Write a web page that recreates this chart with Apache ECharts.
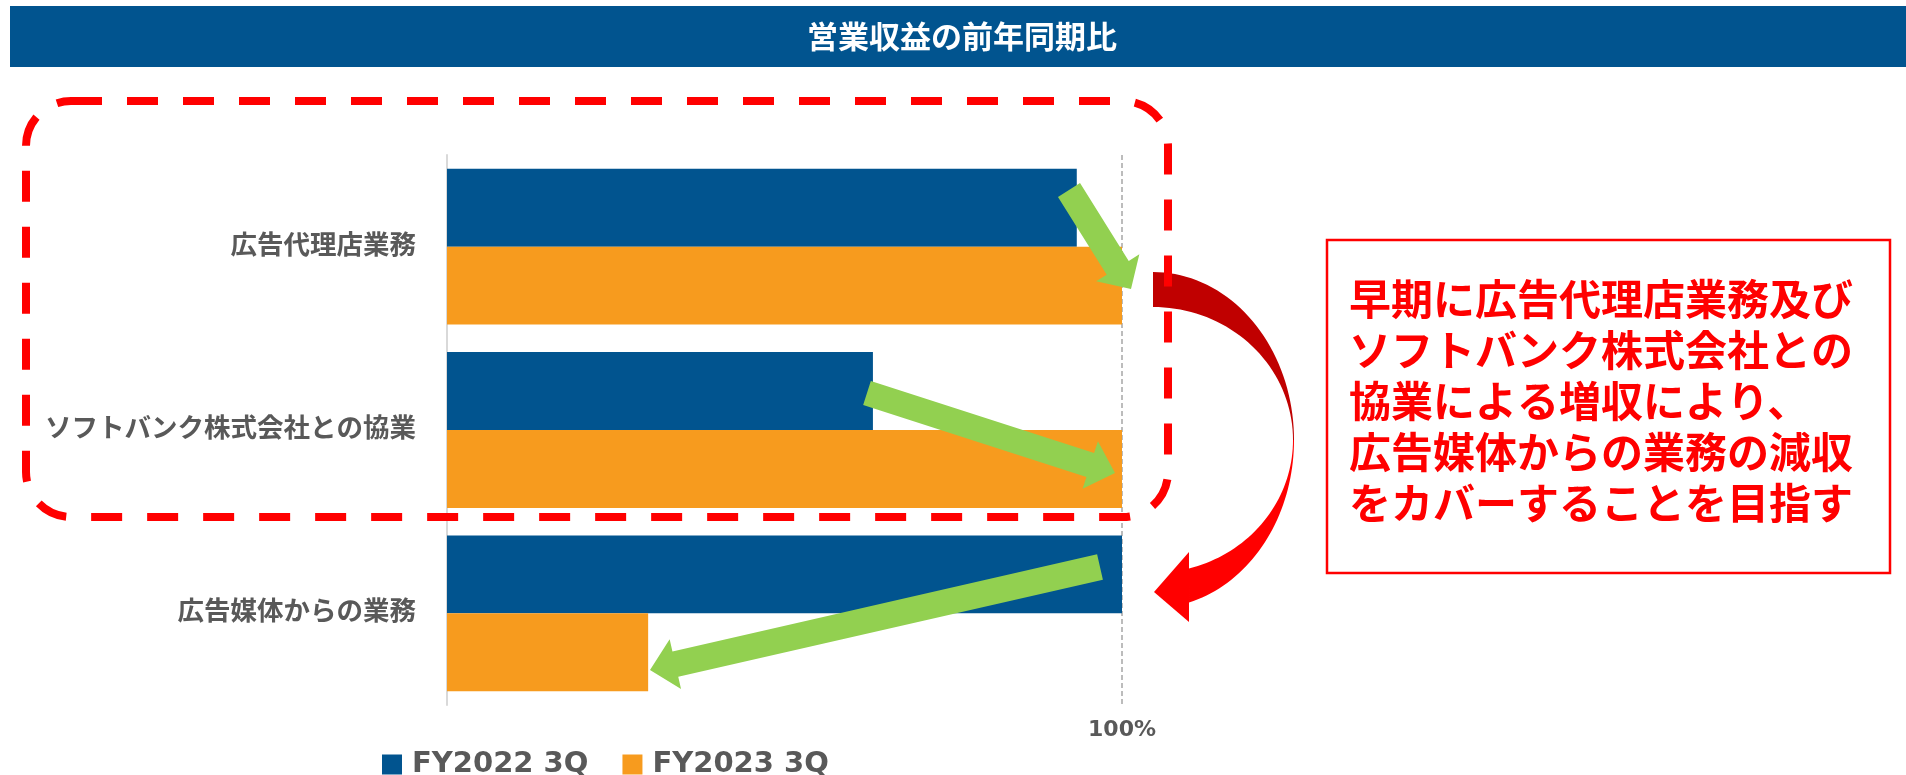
<!DOCTYPE html>
<html>
<head>
<meta charset="utf-8">
<script src="https://cdn.jsdelivr.net/npm/echarts@6/dist/echarts.min.js"></script>
<style>
html,body{margin:0;padding:0;background:#fff;}
#c{width:1906px;height:775px;}
</style>
</head>
<body>
<div id="c"></div>
<script>
// ---- data ----
const categories = ['広告代理店業務', 'ソフトバンク株式会社との協業', '広告媒体からの業務'];
const seriesNames = ['FY2022 3Q', 'FY2023 3Q'];
const fy2022Values = [93.3, 63.1, 100];
const fy2023Values = [100, 100, 29.8];
const xTickValues = [0, 100];
const titleText = '営業収益の前年同期比';
const noteLines = [
  '早期に広告代理店業務及び',
  'ソフトバンク株式会社との',
  '協業による増収により、',
  '広告媒体からの業務の減収',
  'をカバーすることを目指す'
];

const FONT = "'DejaVu Sans', 'Noto Sans CJK JP', sans-serif";
const BLUE = '#01548F';
const ORANGE = '#F79B1E';
const GREEN = '#92D050';

function arrowPts(tx, ty, hx, hy, sw, hw, hl) {
  const dx = hx - tx, dy = hy - ty, L = Math.hypot(dx, dy);
  const ux = dx / L, uy = dy / L, px = -uy, py = ux;
  const bx = hx - ux * hl, by = hy - uy * hl;
  return [
    [tx + px * sw / 2, ty + py * sw / 2],
    [bx + px * sw / 2, by + py * sw / 2],
    [bx + px * hw / 2, by + py * hw / 2],
    [hx, hy],
    [bx - px * hw / 2, by - py * hw / 2],
    [bx - px * sw / 2, by - py * sw / 2],
    [tx - px * sw / 2, ty - py * sw / 2]
  ];
}

function ellPts(cx, cy, rx, ry, a0, a1, n) {
  const pts = [];
  for (let i = 0; i <= n; i++) {
    const t = (a0 + (a1 - a0) * i / n) * Math.PI / 180;
    pts.push([cx + rx * Math.cos(t), cy + ry * Math.sin(t)]);
  }
  return pts;
}

const cx = 1153, cy = 440;
const darkPart = ellPts(cx, cy, 141, 168, -90, 0, 40).concat(ellPts(cx, cy, 140, 133, 0, -90, 40));
const brightPart = ellPts(cx, cy, 141, 168, 0, 75.2, 40).concat(ellPts(cx, cy, 140, 133, 75.1, 0, 40));

const chart = echarts.init(document.getElementById('c'), null, {renderer: 'canvas'});

chart.setOption({
  animation: false,
  backgroundColor: '#ffffff',
  grid: {left: 447, top: 155, width: 675, height: 550, containLabel: false},
  legend: {
    data: seriesNames,
    left: 377,
    top: 745,
    icon: 'rect',
    itemWidth: 20,
    itemHeight: 20,
    itemGap: 34,
    textStyle: {fontFamily: FONT, fontSize: 29, fontWeight: 'bold', color: '#595959', padding: [0, 0, 0, 5]}
  },
  xAxis: {
    type: 'value',
    min: xTickValues[0],
    max: xTickValues[xTickValues.length - 1],
    interval: 100,
    axisLine: {show: false},
    axisTick: {show: false},
    axisLabel: {
      margin: 14,
      fontFamily: FONT, fontSize: 22, fontWeight: 'bold', color: '#595959',
      formatter: v => (v === 0 ? '' : v + '%')
    },
    splitLine: {show: true, lineStyle: {color: ['rgba(0,0,0,0)', '#A6A6A6'], type: [5, 3], width: 1.5}}
  },
  yAxis: {
    type: 'category',
    data: categories,
    inverse: true,
    axisLine: {show: true, lineStyle: {color: '#D9D9D9', width: 2}},
    axisTick: {show: false},
    axisLabel: {margin: 31, fontFamily: FONT, fontSize: 26.5, fontWeight: 'bold', color: '#595959'}
  },
  series: [
    {name: seriesNames[0], type: 'bar', data: fy2022Values, barGap: '0%', barCategoryGap: '15%', itemStyle: {color: BLUE}},
    {name: seriesNames[1], type: 'bar', data: fy2023Values, barGap: '0%', barCategoryGap: '15%', itemStyle: {color: ORANGE}}
  ],
  graphic: [
    {type: 'rect', z: 100, shape: {x: 10, y: 6, width: 1896, height: 61}, style: {fill: BLUE}},
    {type: 'text', z: 101, x: 962, y: 36, style: {text: titleText, fill: '#ffffff', font: "bold 31px 'Noto Sans CJK JP'", align: 'center', verticalAlign: 'middle'}},
    {type: 'polygon', z: 100, shape: {points: darkPart}, style: {fill: '#C00000'}},
    {type: 'polygon', z: 100, shape: {points: brightPart}, style: {fill: '#FF0000'}},
    {type: 'polygon', z: 100, shape: {points: [[1189, 552], [1154, 592], [1189, 622]]}, style: {fill: '#FF0000'}},
    {type: 'rect', z: 101, shape: {x: 26, y: 101, width: 1142, height: 416, r: 45}, style: {fill: null, stroke: '#FF0000', lineWidth: 8, lineDash: [31, 25]}},
    {type: 'polygon', z: 102, shape: {points: arrowPts(1069, 190, 1131, 289, 26, 51, 25)}, style: {fill: GREEN}},
    {type: 'polygon', z: 102, shape: {points: arrowPts(867, 393, 1115, 473, 25, 50, 26)}, style: {fill: GREEN}},
    {type: 'polygon', z: 102, shape: {points: arrowPts(1100, 567, 650, 670, 26, 51, 26)}, style: {fill: GREEN}},
    {type: 'rect', z: 100, shape: {x: 1327, y: 240, width: 563, height: 333}, style: {fill: '#ffffff', stroke: '#FF0000', lineWidth: 2.5}},
    {type: 'text', z: 101, x: 1349, y: 274, style: {text: noteLines.join('\n'), fill: '#FF0000', font: "bold 42px 'Noto Sans CJK JP'", lineHeight: 51, align: 'left', verticalAlign: 'top'}}
  ]
});
</script>
</body>
</html>
